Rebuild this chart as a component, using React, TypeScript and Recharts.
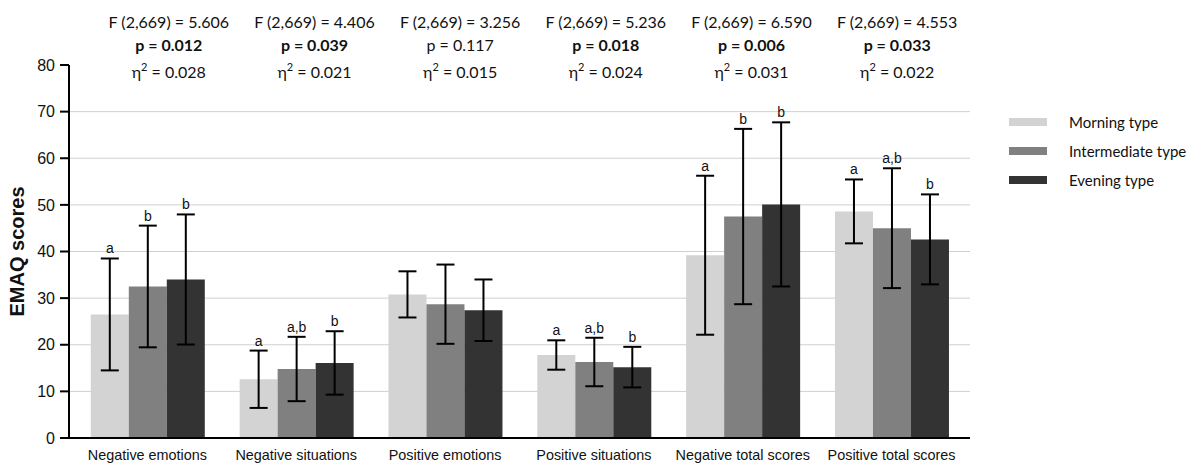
import React from 'react';
import { BarChart, Bar, XAxis, YAxis, CartesianGrid, ErrorBar, LabelList, Legend } from 'recharts';

const categories = [
  'Negative emotions',
  'Negative situations',
  'Positive emotions',
  'Positive situations',
  'Negative total scores',
  'Positive total scores',
];

const seriesNames = ['Morning type', 'Intermediate type', 'Evening type'];
const seriesColors = ['#d3d3d3', '#808080', '#333333'];

const morningMean = [26.5, 12.6, 30.8, 17.8, 39.2, 48.6];
const morningSd = [12.0, 6.15, 4.95, 3.15, 17.05, 6.85];
const intermediateMean = [32.5, 14.8, 28.7, 16.3, 47.5, 45.0];
const intermediateSd = [13.05, 6.9, 8.5, 5.2, 18.8, 12.85];
const eveningMean = [34.0, 16.1, 27.4, 15.2, 50.1, 42.6];
const eveningSd = [13.95, 6.8, 6.6, 4.35, 17.6, 9.65];

const morningLetters = ['a', 'a', '', 'a', 'a', 'a'];
const intermediateLetters = ['b', 'a,b', '', 'a,b', 'b', 'a,b'];
const eveningLetters = ['b', 'b', '', 'b', 'b', 'b'];

const fStats = ['5.606', '4.406', '3.256', '5.236', '6.590', '4.553'];
const pValues = ['0.012', '0.039', '0.117', '0.018', '0.006', '0.033'];
const pSignificant = [true, true, false, true, true, true];
const etaValues = ['0.028', '0.021', '0.015', '0.024', '0.031', '0.022'];

const yTicks = [0, 10, 20, 30, 40, 50, 60, 70, 80];
const gridValues = [10, 20, 30, 40, 50, 60, 70];

const data = categories.map((cat, i) => ({
  cat,
  m: morningMean[i],
  mSd: morningSd[i],
  mLet: morningLetters[i],
  t: intermediateMean[i],
  tSd: intermediateSd[i],
  tLet: intermediateLetters[i],
  e: eveningMean[i],
  eSd: eveningSd[i],
  eLet: eveningLetters[i],
}));

const ARIAL = '"Liberation Sans", Arial, sans-serif';
const CAL = 'Lato, "Noto Sans", sans-serif';

const makeLetter = (meanKey: string, sdKey: string, letKey: string) => (props: any) => {
  const vb = props.viewBox || {};
  const x = Number(props.x ?? vb.x);
  const y = Number(props.y ?? vb.y);
  const w = Number(props.width ?? vb.width);
  const h = Number(props.height ?? vb.height);
  let row: any = props.value && typeof props.value === 'object' ? props.value : null;
  if (!row && typeof props.index === 'number') row = data[props.index];
  if (!row) return null;
  const letter = row[letKey];
  if (!letter) return null;
  const mean = row[meanKey];
  const sd = row[sdKey];
  const pxPerUnit = h / mean;
  const capY = y - sd * pxPerUnit;
  return (
    <text x={x + w / 2} y={capY - 5} textAnchor="middle" fontFamily={ARIAL} fontSize={14} fill="#111">
      {letter}
    </text>
  );
};

const TopTick = (props: any) => {
  const { x, y, payload } = props;
  const i = categories.indexOf(payload.value);
  if (i < 0) return null;
  return (
    <g fontFamily={CAL} fill="#111" textAnchor="middle">
      <text x={x} y={y - 37} fontSize={16}>{`F (2,669) = ${fStats[i]}`}</text>
      <text x={x} y={y - 14.5} fontSize={16} fontWeight={pSignificant[i] ? 700 : 400}>{`p = ${pValues[i]}`}</text>
      <text x={x} y={y + 13} fontSize={16}>
        <tspan>η</tspan>
        <tspan fontSize={11} dy={-7}>2</tspan>
        <tspan dy={7}>{` = ${etaValues[i]}`}</tspan>
      </text>
    </g>
  );
};

const LegendContent = () => {
  return (
    <div style={{ fontFamily: CAL, fontSize: 15, color: '#111' }}>
      {seriesNames.map((name, i) => (
        <div key={name} style={{ height: 29, display: 'flex', alignItems: 'center' }}>
          <span style={{ display: 'inline-block', width: 38, height: 8, background: seriesColors[i], marginRight: 22 }} />
          <span>{name}</span>
        </div>
      ))}
    </div>
  );
};

export default function App() {
  return (
    <div style={{ position: 'absolute', left: 0, top: 0, width: 1195, height: 463, background: '#fff' }}>
      <BarChart
        width={1195}
        height={463}
        data={data}
        margin={{ top: 0, right: 225, bottom: 0, left: 0 }}
        barGap={0}
        barCategoryGap={17.8}
      >
        <CartesianGrid horizontal vertical={false} horizontalValues={gridValues} stroke="#d0d0d0" strokeWidth={1} />
        <XAxis
          xAxisId="top"
          orientation="top"
          dataKey="cat"
          height={65}
          axisLine={false}
          tickLine={false}
          tickSize={0}
          tickMargin={0}
          padding={{ left: 27, right: 0 }}
          interval={0}
          tick={<TopTick />}
        />
        <XAxis
          dataKey="cat"
          height={25}
          axisLine={{ stroke: '#000', strokeWidth: 2 }}
          tickLine={false}
          tickSize={0}
          tickMargin={12}
          padding={{ left: 4, right: 4 }}
          interval={0}
          tick={{ fontFamily: ARIAL, fontSize: 14.4, fill: '#111' }}
        />
        <YAxis
          width={69}
          domain={[0, 80]}
          ticks={yTicks}
          interval={0}
          axisLine={{ stroke: '#000', strokeWidth: 2 }}
          tickLine={{ stroke: '#000', strokeWidth: 2 }}
          tickSize={9}
          tickMargin={5}
          tick={{ fontFamily: ARIAL, fontSize: 16, fill: '#111' }}
          label={{
            value: 'EMAQ scores',
            angle: -90,
            position: 'insideLeft',
            offset: 17,
            style: { textAnchor: 'middle', fontFamily: ARIAL, fontSize: 20, fontWeight: 700, fill: '#111' },
          }}
        />
        <Legend
          layout="horizontal"
          align="center"
          verticalAlign="middle"
          wrapperStyle={{ left: 1009, top: 107, width: 186 }}
          content={<LegendContent />}
        />
        <Bar dataKey="m" name={seriesNames[0]} fill={seriesColors[0]} isAnimationActive={false}>
          <ErrorBar dataKey="mSd" width={9} strokeWidth={2} stroke="#000" direction="y" />
          <LabelList dataKey={(d: any) => d} content={makeLetter('m', 'mSd', 'mLet')} />
        </Bar>
        <Bar dataKey="t" name={seriesNames[1]} fill={seriesColors[1]} isAnimationActive={false}>
          <ErrorBar dataKey="tSd" width={9} strokeWidth={2} stroke="#000" direction="y" />
          <LabelList dataKey={(d: any) => d} content={makeLetter('t', 'tSd', 'tLet')} />
        </Bar>
        <Bar dataKey="e" name={seriesNames[2]} fill={seriesColors[2]} isAnimationActive={false}>
          <ErrorBar dataKey="eSd" width={9} strokeWidth={2} stroke="#000" direction="y" />
          <LabelList dataKey={(d: any) => d} content={makeLetter('e', 'eSd', 'eLet')} />
        </Bar>
      </BarChart>
    </div>
  );
}
